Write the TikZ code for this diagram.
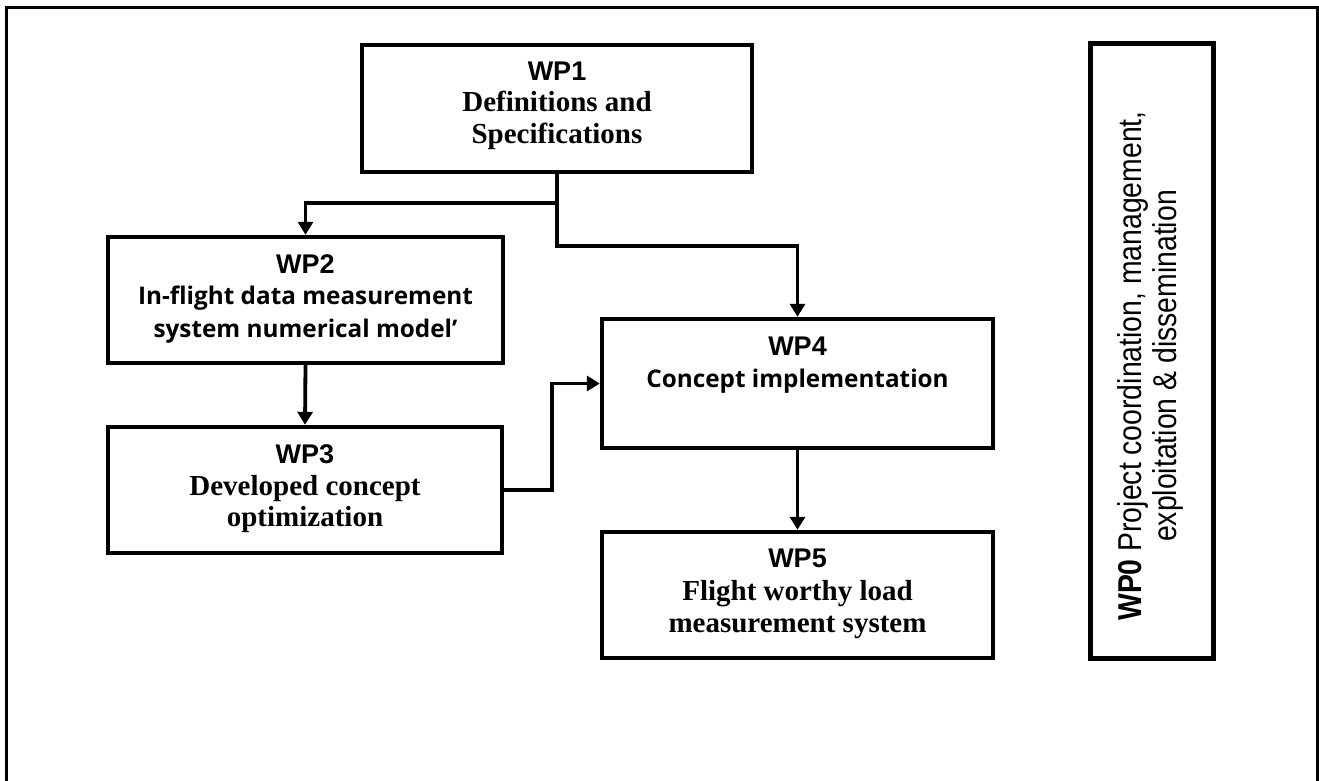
\documentclass[tikz,border=0pt]{standalone}
\usepackage{fontspec}
\setmainfont{Liberation Serif}
\newfontfamily\headfont{Liberation Sans}
\newfontfamily\bodysans{Open Sans}
\newfontfamily\narrowfont[FakeStretch=0.86]{Liberation Sans}
\usetikzlibrary{arrows.meta}

\newcommand{\wptitle}{\headfont\bfseries\fontsize{27}{31}\selectfont}
\newcommand{\wpserif}{\bfseries\fontsize{29}{31}\selectfont}
\newcommand{\wpsans}{\bodysans\bfseries\fontsize{24.3}{31}\selectfont}

\tikzset{
  wpbox/.style={draw=black, line width=4.4pt, fill=white, inner sep=0pt},
  conn/.style={draw=black, line width=3.8pt,
    -{Triangle[width=15pt,length=13pt]}},
  frameline/.style={draw=black, line width=3pt},
  txt/.style={anchor=base, inner sep=0pt, text=black}
}

\begin{document}
\begin{tikzpicture}[x=1pt,y=-1pt]
  \useasboundingbox (0,0) rectangle (1319,781);

  % outer frame, open at the bottom
  \draw[frameline] (6,781) -- (6,8) -- (1317,8) -- (1317,781);

  % work package boxes
  \node[wpbox, minimum width=390pt, minimum height=127pt] (wp1) at (557,108.5) {};
  \node[wpbox, minimum width=395pt, minimum height=126pt] (wp2) at (305.5,300) {};
  \node[wpbox, minimum width=394pt, minimum height=126pt] (wp3) at (305,490) {};
  \node[wpbox, minimum width=391pt, minimum height=129pt] (wp4) at (797.5,383.5) {};
  \node[wpbox, minimum width=391pt, minimum height=126pt] (wp5) at (797.5,595) {};
  \node[wpbox, minimum width=123pt, minimum height=615pt] (wp0) at (1152,351) {};

  % box texts
  \node[txt] (t1a) at (557,81)  {\wptitle WP1};
  \node[txt] (t1b) at (557,112) {\wpserif Definitions and};
  \node[txt] (t1c) at (557,143) {\wpserif Specifications};

  \node[txt] (t2a) at (305.5,273) {\wptitle WP2};
  \node[txt] (t2b) at (305.5,304) {\wpsans In-flight data measurement};
  \node[txt] (t2c) at (305.5,337) {\wpsans system numerical model’};

  \node[txt] (t3a) at (305,463) {\wptitle WP3};
  \node[txt] (t3b) at (305,495) {\wpserif Developed concept};
  \node[txt] (t3c) at (305,526) {\wpserif optimization};

  \node[txt] (t4a) at (797.5,355) {\wptitle WP4};
  \node[txt] (t4b) at (797.5,387) {\wpsans Concept implementation};

  \node[txt] (t5a) at (797.5,567) {\wptitle WP5};
  \node[txt] (t5b) at (797.5,600) {\wpserif Flight worthy load};
  \node[txt] (t5c) at (797.5,632) {\wpserif measurement system};

  \node[rotate=90, align=center, inner sep=0pt,
        font=\narrowfont\fontsize{33}{35}\selectfont] (t0) at (1150,366)
    {{\bfseries WP0} Project coordination, management,\\exploitation \& dissemination};

  % connectors
  \coordinate (j1) at (557,203);
  \coordinate (j2) at (557,246);
  \coordinate (j3) at (552,490);
  \draw[conn] (wp1.south) -- (j1) -| (wp2.north);
  \draw[conn] (j1) -- (j2) -| (wp4.north);
  \draw[conn] (wp2.south) -- (wp3.north);
  \draw[conn] (wp3.east) -- (j3) |- (wp4.west);
  \draw[conn] (wp4.south) -- (wp5.north);
\end{tikzpicture}
\end{document}
